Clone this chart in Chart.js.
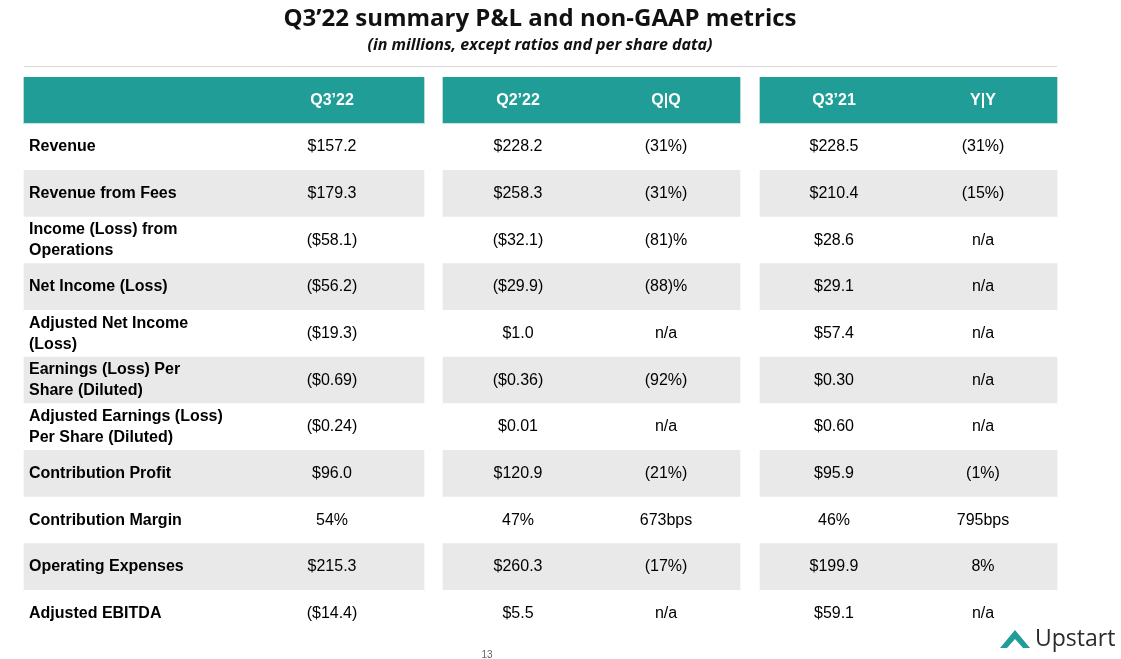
<!DOCTYPE html>
<html lang="en">
<head>
<meta charset="UTF-8">
<title>Q3'22 summary P&L and non-GAAP metrics</title>
<script src="https://cdn.jsdelivr.net/npm/chart.js"></script>
<style>
  html, body { margin: 0; padding: 0; background: #fff; }
  #wrap { width: 1121px; height: 659px; position: relative; }
</style>
</head>
<body>
<div id="wrap"><canvas id="tbl"></canvas></div>
<script>
// table data
const headers = ['', 'Q3\u201922', 'Q2\u201922', 'Q|Q', 'Q3\u201921', 'Y|Y'];
const metrics = [
  ['Revenue'],
  ['Revenue from Fees'],
  ['Income (Loss) from', 'Operations'],
  ['Net Income (Loss)'],
  ['Adjusted Net Income', '(Loss)'],
  ['Earnings (Loss) Per', 'Share (Diluted)'],
  ['Adjusted Earnings (Loss)', 'Per Share (Diluted)'],
  ['Contribution Profit'],
  ['Contribution Margin'],
  ['Operating Expenses'],
  ['Adjusted EBITDA']
];
const q322 = ['$157.2', '$179.3', '($58.1)', '($56.2)', '($19.3)', '($0.69)', '($0.24)', '$96.0', '54%', '$215.3', '($14.4)'];
const q222 = ['$228.2', '$258.3', '($32.1)', '($29.9)', '$1.0', '($0.36)', '$0.01', '$120.9', '47%', '$260.3', '$5.5'];
const qq = ['(31%)', '(31%)', '(81)%', '(88)%', 'n/a', '(92%)', 'n/a', '(21%)', '673bps', '(17%)', 'n/a'];
const q321 = ['$228.5', '$210.4', '$28.6', '$29.1', '$57.4', '$0.30', '$0.60', '$95.9', '46%', '$199.9', '$59.1'];
const yy = ['(31%)', '(15%)', 'n/a', 'n/a', 'n/a', 'n/a', 'n/a', '(1%)', '795bps', '8%', 'n/a'];

const rowLabels = ['header'].concat(metrics.map(m => m.join(' ')));
const columns = [q322, q222, qq, q321, yy];
// column group spans and text centres on the x scale
const groups = [[24, 424], [443, 740], [760, 1057]];
const colCenters = [332, 518, 666, 834, 983];

const TEAL = '#1f9d96';
const GRAY = '#e9e9e9';

function bandColor(i) {
  if (i === 0) return TEAL;
  return (i % 2 === 0) ? GRAY : '#ffffff';
}

const datasets = groups.map(g => ({
  data: rowLabels.map(() => g),
  backgroundColor: rowLabels.map((_, i) => bandColor(i)),
  barPercentage: 1,
  categoryPercentage: 1,
  grouped: false,
  borderWidth: 0
}));

const textPlugin = {
  id: 'tableText',
  afterDatasetsDraw(chart) {
    const { ctx, scales: { x, y } } = chart;
    ctx.save();
    // title
    ctx.fillStyle = '#111';
    ctx.textAlign = 'center';
    ctx.textBaseline = 'middle';
    ctx.font = 'bold 24px "Open Sans", sans-serif';
    ctx.fillText('Q3\u201922 summary P&L and non-GAAP metrics', 540, 19);
    ctx.font = 'italic bold 16px "Open Sans", sans-serif';
    ctx.fillText('(in millions, except ratios and per share data)', 540, 45);
    ctx.strokeStyle = '#d9d9d9';
    ctx.lineWidth = 1;
    ctx.beginPath();
    ctx.moveTo(x.getPixelForValue(24), 66.5);
    ctx.lineTo(x.getPixelForValue(1057), 66.5);
    ctx.stroke();

    // header
    ctx.fillStyle = '#fff';
    ctx.font = 'bold 16px "Liberation Sans", Arial, sans-serif';
    headers.slice(1).forEach((h, c) => {
      ctx.fillText(h, x.getPixelForValue(colCenters[c]), y.getPixelForValue(0));
    });

    // body
    ctx.fillStyle = '#000';
    metrics.forEach((lines, r) => {
      const yc = y.getPixelForValue(r + 1);
      ctx.font = 'bold 16px "Liberation Sans", Arial, sans-serif';
      ctx.textAlign = 'left';
      lines.forEach((ln, k) => {
        const off = (k - (lines.length - 1) / 2) * 21;
        ctx.fillText(ln, x.getPixelForValue(29), yc + off);
      });
      ctx.font = '16px "Liberation Sans", Arial, sans-serif';
      ctx.textAlign = 'center';
      columns.forEach((col, c) => {
        ctx.fillText(col[r], x.getPixelForValue(colCenters[c]), yc);
      });
    });

    // footer
    ctx.fillStyle = '#666';
    ctx.font = '10px "Liberation Sans", Arial, sans-serif';
    ctx.fillText('13', 487, 655);
    // logo
    ctx.fillStyle = TEAL;
    ctx.beginPath();
    ctx.moveTo(1000, 648); ctx.lineTo(1015, 630); ctx.lineTo(1030, 648);
    ctx.lineTo(1023, 648); ctx.lineTo(1015, 639); ctx.lineTo(1007, 648);
    ctx.closePath(); ctx.fill();
    ctx.fillStyle = '#2b2b2b';
    ctx.textAlign = 'left';
    ctx.font = '23px "Open Sans", sans-serif';
    ctx.fillText('Upstart', 1035, 639);
    ctx.restore();
  }
};

new Chart(document.getElementById('tbl'), {
  type: 'bar',
  data: { labels: rowLabels, datasets },
  options: {
    indexAxis: 'y',
    responsive: true,
    maintainAspectRatio: false,
    animation: false,
    layout: { padding: { top: 77, bottom: 22, left: 0, right: 0 } },
    scales: {
      x: { type: 'linear', min: 0, max: 1121, display: false },
      y: { display: false }
    },
    plugins: { legend: { display: false }, tooltip: { enabled: false } }
  },
  plugins: [textPlugin]
});
</script>
</body>
</html>
